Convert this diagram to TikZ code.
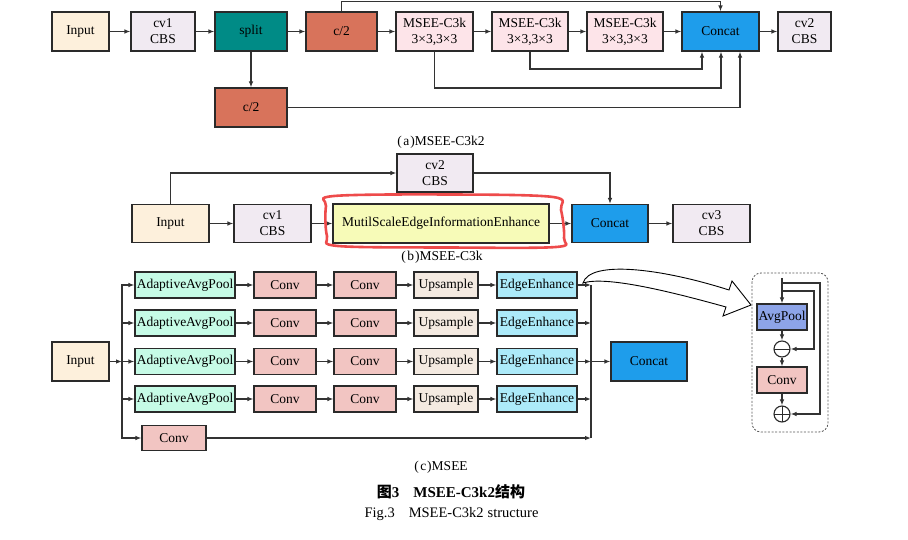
\documentclass[tikz,border=0pt]{standalone}
\usepackage{fontspec}
\setmainfont{Liberation Serif}
\newfontfamily\cjk{Noto Sans CJK SC}
\usetikzlibrary{arrows.meta,calc}
\definecolor{bd}{HTML}{2A2A2A}
\definecolor{lc}{HTML}{333333}
\definecolor{cIn}{HTML}{FDF0DC}
\definecolor{cCBS}{HTML}{F1EAF2}
\definecolor{cSplit}{HTML}{008B86}
\definecolor{cHalf}{HTML}{D8735B}
\definecolor{cM}{HTML}{FDE4E9}
\definecolor{cCat}{HTML}{1E9DEB}
\definecolor{cMS}{HTML}{F7FBB8}
\definecolor{cAAP}{HTML}{C6FBE6}
\definecolor{cConv}{HTML}{F2C5C2}
\definecolor{cUp}{HTML}{F4EAE1}
\definecolor{cEE}{HTML}{ACEAF9}
\definecolor{cAvg}{HTML}{8DA4E8}
\definecolor{cRed}{HTML}{EE4B4B}
\begin{document}
\begin{tikzpicture}[x=1pt,y=-1pt,
  box/.style={draw=bd,line width=1.1pt,inner sep=0pt,align=center,text=black,font=\fontsize{13.5}{16}\selectfont},
  wh/.style 2 args={minimum width=#1,minimum height=#2},
  arr/.style={draw=lc,line width=1.2pt,-{Latex[length=6pt,width=4.6pt]}},
  ln/.style={draw=lc,line width=1.2pt},
  captxt/.style={font=\fontsize{13.5}{15}\selectfont,inner sep=0pt},
  opc/.style={circle,draw=bd,line width=1.1pt,minimum size=16pt,inner sep=0pt,fill=white}]
\fill[white] (0,0) rectangle (908,540);
\path[use as bounding box] (0,0) rectangle (908,540);

% ---------------- (a) ----------------
\node[box,fill=cIn,wh={57pt}{39pt}] (ia) at (80.5,31.5) {Input};
\node[box,fill=cCBS,wh={64pt}{39pt}] (cva) at (163,31.5) {cv1\\CBS};
\node[box,fill=cSplit,wh={72pt}{39pt}] (sp) at (251,31.5) {split};
\node[box,fill=cHalf,wh={71pt}{39pt}] (ht) at (341.5,31.5) {c/2};
\node[box,fill=cM,wh={77pt}{39pt}] (m1) at (434.5,31.5) {MSEE-C3k\\3×3,3×3};
\node[box,fill=cM,wh={76pt}{39pt}] (m2) at (530,31.5) {MSEE-C3k\\3×3,3×3};
\node[box,fill=cM,wh={76pt}{39pt}] (m3) at (625,31.5) {MSEE-C3k\\3×3,3×3};
\node[box,fill=cCat,wh={77pt}{39pt}] (ca) at (720.5,31.5) {Concat};
\node[box,fill=cCBS,wh={53pt}{39pt}] (cvb) at (804.5,31.5) {cv2\\CBS};
\node[box,fill=cHalf,wh={72pt}{39pt}] (hb) at (251,107.5) {c/2};
\foreach \a/\b in {ia/cva,cva/sp,sp/ht,ht/m1,m1/m2,m2/m3,m3/ca,ca/cvb} \draw[arr] (\a) -- (\b);
\draw[arr] (sp) -- (hb);
\coordinate (ty) at (341.5,1.2);
\draw[arr] (ht.north) -- (ty) -| (ca.north);
\coordinate (k1) at (702,69);
\coordinate (k2) at (721,88);
\coordinate (k3) at (740,107.5);
\draw[arr] (m2.south) |- (k1) -- (k1 |- ca.south);
\draw[arr] (m1.south) |- (k2) -- (k2 |- ca.south);
\draw[arr] (hb.east) -- (k3) -- (k3 |- ca.south);
\node[captxt] (capa) at (441,142) {(\kern1.5pt a\kern1pt)MSEE-C3k2};

% ---------------- (b) ----------------
\node[box,fill=cIn,wh={77pt}{38pt}] (ib) at (170.5,223.5) {Input};
\node[box,fill=cCBS,wh={77pt}{38pt}] (c1b) at (272.5,223.5) {cv1\\CBS};
\node[box,fill=cCBS,wh={76pt}{38pt}] (c2b) at (435,173) {cv2\\CBS};
\node[box,fill=cMS,wh={216pt}{39pt}] (ms) at (441,223.5) {MutilScaleEdgeInformationEnhance};
\node[box,fill=cCat,wh={76pt}{38pt}] (cb) at (610,223.5) {Concat};
\node[box,fill=cCBS,wh={77pt}{38pt}] (c3b) at (711.5,223.5) {cv3\\CBS};
\foreach \a/\b in {ib/c1b,c1b/ms,ms/cb,cb/c3b} \draw[arr] (\a) -- (\b);
\draw[arr] (ib.north) |- (c2b.west);
\draw[arr] (c2b.east) -| (cb.north);
\draw[cRed,line width=2.6pt] plot[smooth cycle,tension=0.55] coordinates
  {(334,196) (450,194.5) (553,197) (561,210) (564,238) (556,247) (450,247.5) (338,246) (327,236) (326,206)};
\node[captxt] (capb) at (442,257) {(\kern1.5pt b\kern1pt)MSEE-C3k};

% ---------------- (c) ----------------
\node[box,fill=cIn,wh={57pt}{39pt}] (ic) at (80.5,361.5) {Input};
\foreach \i/\y in {1/285,2/323,3/361.5,4/399}{
  \node[box,fill=cAAP,wh={100pt}{26pt}] (aap\i) at (185,\y) {AdaptiveAvgPool};
  \node[box,fill=cConv,wh={62pt}{26pt}] (ca\i) at (285,\y) {Conv};
  \node[box,fill=cConv,wh={62pt}{26pt}] (cb\i) at (365,\y) {Conv};
  \node[box,fill=cUp,wh={64pt}{26pt}] (up\i) at (446,\y) {Upsample};
  \node[box,fill=cEE,wh={80pt}{26pt}] (ee\i) at (537,\y) {EdgeEnhance};
  \draw[arr] (aap\i) -- (ca\i);
  \draw[arr] (ca\i) -- (cb\i);
  \draw[arr] (cb\i) -- (up\i);
  \draw[arr] (up\i) -- (ee\i);
}
\node[box,fill=cConv,wh={64pt}{25pt}] (cc) at (174,438) {Conv};
\coordinate (jl) at (122,361.5);
\draw[arr] (ic.east) -- (jl);
\foreach \i in {1,...,4} \draw[arr] (jl) |- (aap\i.west);
\draw[arr] (jl) |- (cc.west);
\coordinate (jr) at (591,361.5);
\node[box,fill=cCat,wh={76pt}{39pt}] (cct) at (649,361.5) {Concat};
\foreach \i in {1,...,4} \draw[arr] (ee\i.east) -- (ee\i.east -| jr);
\draw[arr] (cc.east) -- (cc.east -| jr);
\draw[ln] (ee1.east -| jr) -- (cc.east -| jr);
\draw[arr] (jr) -- (cct.west);
\node[captxt] (capc) at (441,467) {(\kern1.5pt c\kern1pt)MSEE};

% hollow arrow
\draw[black,line width=0.9pt,fill=white,line join=miter]
  (583,283) .. controls (590,260) and (660,268) .. (729,290) -- (732,281) -- (751,305)
  -- (723,316) -- (726,307) .. controls (665,290) and (605,276) .. (583,283) -- cycle;

% inset
\draw[gray!70!black,line width=0.8pt,dash pattern=on 2pt off 1.6pt,rounded corners=9pt] (752,273) rectangle (828,432);
\node[box,fill=cAvg,wh={50pt}{26pt}] (avg) at (782,317) {AvgPool};
\node[opc,path picture={\draw[bd,line width=1pt] (path picture bounding box.west) -- (path picture bounding box.east);}] (mn) at (782,349) {};
\node[box,fill=cConv,wh={50pt}{26pt}] (cvi) at (782,380) {Conv};
\node[opc,path picture={\draw[bd,line width=1pt] (path picture bounding box.west) -- (path picture bounding box.east) (path picture bounding box.north) -- (path picture bounding box.south);}] (pl) at (782,414) {};
\coordinate (it) at (782,278);
\coordinate (ob) at (782,283);
\coordinate (oc) at (820,283);
\coordinate (ib2) at (782,291);
\coordinate (ic2) at (814,291);
\draw[arr] (it) -- (avg.north);
\draw[arr] (ob) -- (oc) |- (pl.east);
\draw[arr] (ib2) -- (ic2) |- (mn.east);
\draw[arr] (avg) -- (mn);
\draw[arr] (mn) -- (cvi);
\draw[arr] (cvi) -- (pl);

% captions
\node[inner sep=0pt,font=\fontsize{15}{17}\selectfont\bfseries] (cn) at (451,492) {{\cjk 图}3\hspace{14pt}MSEE-C3k2{\cjk 结构}};
\node[inner sep=0pt,font=\fontsize{14.5}{17}\selectfont] (en) at (451.5,514) {Fig.3\hspace{14pt}MSEE-C3k2\hspace{4pt}structure};
\end{tikzpicture}
\end{document}
